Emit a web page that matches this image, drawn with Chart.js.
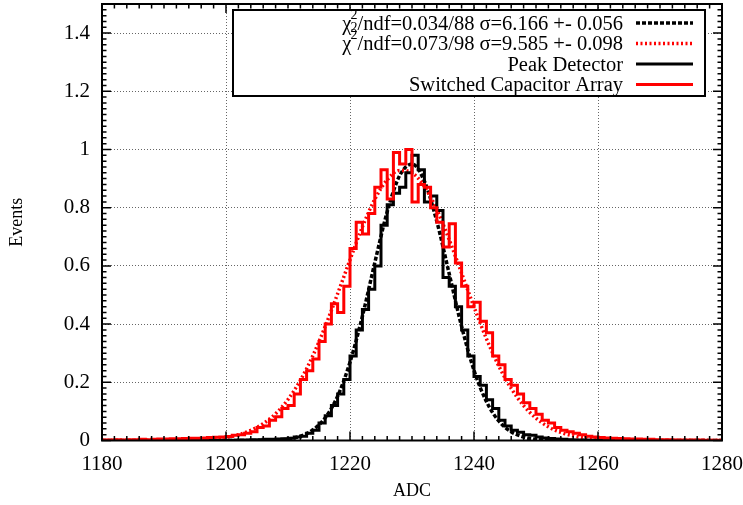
<!DOCTYPE html>
<html>
<head>
<meta charset="utf-8">
<script src="https://cdn.jsdelivr.net/npm/chart.js@4.4.1/dist/chart.umd.min.js"></script>
<style>
  html, body { margin: 0; padding: 0; background: #fff; }
  #wrap { width: 743px; height: 505px; }
</style>
</head>
<body>
<div id="wrap"><canvas id="adcChart" width="743" height="505"></canvas></div>
<script>
// bin edges in ADC counts (left edge of each 1-count bin, last one closes the histogram)
const binEdges = [
  1180, 1181, 1182, 1183, 1184, 1185, 1186, 1187, 1188, 1189,
  1190, 1191, 1192, 1193, 1194, 1195, 1196, 1197, 1198, 1199,
  1200, 1201, 1202, 1203, 1204, 1205, 1206, 1207, 1208, 1209,
  1210, 1211, 1212, 1213, 1214, 1215, 1216, 1217, 1218, 1219,
  1220, 1221, 1222, 1223, 1224, 1225, 1226, 1227, 1228, 1229,
  1230, 1231, 1232, 1233, 1234, 1235, 1236, 1237, 1238, 1239,
  1240, 1241, 1242, 1243, 1244, 1245, 1246, 1247, 1248, 1249,
  1250, 1251, 1252, 1253, 1254, 1255, 1256, 1257, 1258, 1259,
  1260, 1261, 1262, 1263, 1264, 1265, 1266, 1267, 1268, 1269,
  1270, 1271, 1272, 1273, 1274, 1275, 1276, 1277, 1278, 1279,
  1280
];

// normalised counts per bin (1180 ... 1279)
const peakDetector = [
  0, 0, 0, 0, 0, 0, 0, 0, 0, 0,
  0, 0, 0, 0, 0, 0, 0, 0, 0, 0.001,
  0.001, 0.001, 0.002, 0.002, 0.003, 0.003, 0.004, 0.004, 0.005, 0.006,
  0.008, 0.012, 0.015, 0.025, 0.035, 0.06, 0.085, 0.12, 0.16, 0.21,
  0.29, 0.38, 0.45, 0.52, 0.60, 0.74, 0.81, 0.85, 0.87, 0.92,
  0.98, 0.93, 0.82, 0.84, 0.79, 0.56, 0.53, 0.46, 0.38, 0.29,
  0.22, 0.19, 0.14, 0.11, 0.07, 0.05, 0.035, 0.028, 0.02, 0.018,
  0.012, 0.009, 0.007, 0.005, 0.004, 0.003, 0.002, 0.002, 0.001, 0.001,
  0, 0, 0, 0, 0, 0, 0, 0, 0, 0,
  0, 0, 0, 0, 0, 0, 0, 0, 0, 0
];

const switchedCapArray = [
  0.002, 0.002, 0.003, 0.002, 0.003, 0.003, 0.004, 0.003, 0.004, 0.005,
  0.005, 0.006, 0.006, 0.007, 0.008, 0.008, 0.009, 0.010, 0.011, 0.012,
  0.014, 0.018, 0.02, 0.025, 0.03, 0.045, 0.05, 0.07, 0.082, 0.11,
  0.12, 0.16, 0.21, 0.24, 0.28, 0.34, 0.40, 0.47, 0.44, 0.53,
  0.66, 0.75, 0.71, 0.78, 0.87, 0.93, 0.83, 0.99, 0.95, 1.0,
  0.82, 0.88, 0.87, 0.80, 0.75, 0.665, 0.745, 0.61, 0.53, 0.46,
  0.475, 0.41, 0.37, 0.29, 0.26, 0.21, 0.19, 0.16, 0.13, 0.11,
  0.09, 0.07, 0.06, 0.045, 0.035, 0.03, 0.025, 0.02, 0.015, 0.012,
  0.01, 0.009, 0.008, 0.007, 0.006, 0.005, 0.005, 0.004, 0.004, 0.003,
  0.003, 0.003, 0.002, 0.002, 0.002, 0.002, 0.002, 0.001, 0.001, 0.001
];

// gaussian fit curves, sampled every 2 ADC
const fitX = [
  1180, 1182, 1184, 1186, 1188, 1190, 1192, 1194, 1196, 1198,
  1200, 1202, 1204, 1206, 1208, 1210, 1212, 1214, 1216, 1218,
  1220, 1222, 1224, 1226, 1228, 1230, 1232, 1234, 1236, 1238,
  1240, 1242, 1244, 1246, 1248, 1250, 1252, 1254, 1256, 1258,
  1260, 1262, 1264, 1266, 1268, 1270, 1272, 1274, 1276, 1278,
  1280
];
const peakFit = [
  0, 0, 0, 0, 0, 0, 0, 0, 0, 0,
  0, 0, 0, 0.001, 0.002, 0.005, 0.015, 0.036, 0.078, 0.152,
  0.269, 0.427, 0.611, 0.786, 0.91, 0.95, 0.891, 0.753, 0.573, 0.392,
  0.241, 0.134, 0.067, 0.03, 0.012, 0.004, 0.002, 0, 0, 0,
  0, 0, 0, 0, 0, 0, 0, 0, 0, 0,
  0
];
const scaFit = [
  0, 0, 0, 0, 0, 0, 0.001, 0.001, 0.003, 0.006,
  0.011, 0.02, 0.035, 0.058, 0.092, 0.141, 0.207, 0.291, 0.392, 0.504,
  0.621, 0.734, 0.829, 0.896, 0.928, 0.92, 0.873, 0.794, 0.69, 0.575,
  0.459, 0.35, 0.256, 0.179, 0.12, 0.077, 0.047, 0.028, 0.016, 0.008,
  0.004, 0.002, 0.001, 0, 0, 0, 0, 0, 0, 0,
  0
];

const xTicks = [1180, 1200, 1220, 1240, 1260, 1280];
const yTicks = [0, 0.2, 0.4, 0.6, 0.8, 1, 1.2, 1.4];

const SERIF = '"Liberation Serif", "DejaVu Serif", serif';

function histPoints(vals) {
  return binEdges.map((x, i) => ({ x, y: vals[Math.min(i, vals.length - 1)] }));
}
function fitPoints(vals) {
  return fitX.map((x, i) => ({ x, y: vals[i] }));
}

// gnuplot style frame with inward major/minor tics on all four sides
const framePlugin = {
  id: 'frame',
  afterDatasetsDraw(chart) {
    const { ctx, chartArea: a, scales: { x, y } } = chart;
    ctx.save();
    ctx.strokeStyle = '#000';
    ctx.lineWidth = 1.5;
    ctx.beginPath();
    for (let i = 0; i <= 50; i++) {
      const px = x.getPixelForValue(1180 + i * 2);
      const len = i % 10 === 0 ? 9 : 4.5;
      ctx.moveTo(px, a.bottom); ctx.lineTo(px, a.bottom - len);
      ctx.moveTo(px, a.top); ctx.lineTo(px, a.top + len);
    }
    for (let i = 0; i <= 75; i++) {
      const py = y.getPixelForValue(i * 0.02);
      const len = i % 10 === 0 ? 9 : 4.5;
      ctx.moveTo(a.left, py); ctx.lineTo(a.left + len, py);
      ctx.moveTo(a.right, py); ctx.lineTo(a.right - len, py);
    }
    ctx.stroke();
    ctx.lineWidth = 2;
    ctx.strokeRect(a.left, a.top, a.right - a.left, a.bottom - a.top);
    ctx.restore();
  }
};

// key box in the upper right, text right aligned with the line sample after it
const keyPlugin = {
  id: 'key',
  afterDraw(chart) {
    const ctx = chart.ctx;
    const left = 233, top = 10, right = 705, bottom = 96;
    const textRight = 623, sampleL = 636, sampleR = 693;
    ctx.save();
    ctx.fillStyle = '#fff';
    ctx.fillRect(left, top, right - left, bottom - top);
    ctx.lineWidth = 2;
    ctx.strokeStyle = '#000';
    ctx.strokeRect(left, top, right - left, bottom - top);

    chart.data.datasets.forEach((ds, i) => {
      const base = 29.5 + i * 20.5;
      ctx.fillStyle = '#000';
      ctx.textAlign = 'right';
      ctx.textBaseline = 'alphabetic';
      ctx.font = '20.5px ' + SERIF;
      if (ds.label.startsWith('χ²')) {
        const rest = ds.label.slice(2);
        ctx.fillText(rest, textRight, base);
        let xl = textRight - ctx.measureText(rest).width;
        ctx.font = '14px ' + SERIF;
        ctx.fillText('2', xl, base - 11);
        if (ds.chiSub) ctx.fillText('2', xl, base + 2);
        xl -= ctx.measureText('2').width - 1;
        ctx.font = '20.5px ' + SERIF;
        ctx.fillText('χ', xl, base);
      } else {
        ctx.fillText(ds.label, textRight, base);
      }
      ctx.strokeStyle = ds.borderColor;
      ctx.lineWidth = ds.borderWidth;
      ctx.setLineDash(ds.borderDash || []);
      ctx.beginPath();
      ctx.moveTo(sampleL, base - 6.5);
      ctx.lineTo(sampleR, base - 6.5);
      ctx.stroke();
      ctx.setLineDash([]);
    });
    ctx.restore();
  }
};

const gridColor = (edgeVals) => (c) =>
  (c.tick && edgeVals.includes(c.tick.value)) ? 'rgba(0,0,0,0)' : '#666';

new Chart(document.getElementById('adcChart'), {
  type: 'line',
  data: {
    datasets: [
      {
        label: 'χ²/ndf=0.034/88 σ=6.166 +- 0.056', chiSub: true,
        data: fitPoints(peakFit), borderColor: '#000', borderWidth: 3.5,
        borderDash: [4, 2], cubicInterpolationMode: 'monotone', order: 3
      },
      {
        label: 'χ²/ndf=0.073/98 σ=9.585 +- 0.098',
        data: fitPoints(scaFit), borderColor: '#f00', borderWidth: 3.5,
        borderDash: [2, 2.5], cubicInterpolationMode: 'monotone', order: 2
      },
      {
        label: 'Peak Detector',
        data: histPoints(peakDetector), borderColor: '#000', borderWidth: 3,
        stepped: true, order: 1
      },
      {
        label: 'Switched Capacitor Array',
        data: histPoints(switchedCapArray), borderColor: '#f00', borderWidth: 3,
        stepped: true, order: 0
      }
    ]
  },
  options: {
    responsive: false,
    animation: false,
    devicePixelRatio: 1,
    layout: { padding: { top: 4, right: 21, left: 0, bottom: 0 } },
    elements: { point: { radius: 0 }, line: { fill: false } },
    plugins: { legend: { display: false }, tooltip: { enabled: false } },
    scales: {
      x: {
        type: 'linear', min: 1180, max: 1280,
        afterBuildTicks: s => { s.ticks = xTicks.map(v => ({ value: v })); },
        ticks: {
          callback: v => String(v), color: '#000', padding: 11,
          maxRotation: 0, autoSkip: false, font: { family: SERIF, size: 21 }
        },
        grid: { color: gridColor([1180, 1280]), lineWidth: 1, drawTicks: false },
        border: { display: false, dash: [1, 2] },
        title: {
          display: true, text: 'ADC', color: '#000',
          font: { family: SERIF, size: 18, lineHeight: 1 }, padding: { top: 0, bottom: 5 }
        },
        afterFit: s => { s.height = 64.5; s.paddingLeft = 0; s.paddingRight = 0; }
      },
      y: {
        type: 'linear', min: 0, max: 1.5,
        afterBuildTicks: s => { s.ticks = yTicks.map(v => ({ value: v })); },
        ticks: {
          callback: v => String(Math.round(v * 10) / 10), color: '#000', padding: 12,
          font: { family: SERIF, size: 21 }
        },
        grid: { color: gridColor([0]), lineWidth: 1, drawTicks: false },
        border: { display: false, dash: [1, 2] },
        title: {
          display: true, text: 'Events', color: '#000',
          font: { family: SERIF, size: 18, lineHeight: 1 }, padding: { top: 8, bottom: 0 }
        },
        afterFit: s => { s.width = 102; s.paddingTop = 0; s.paddingBottom = 0; }
      }
    }
  },
  plugins: [framePlugin, keyPlugin]
});
</script>
</body>
</html>
